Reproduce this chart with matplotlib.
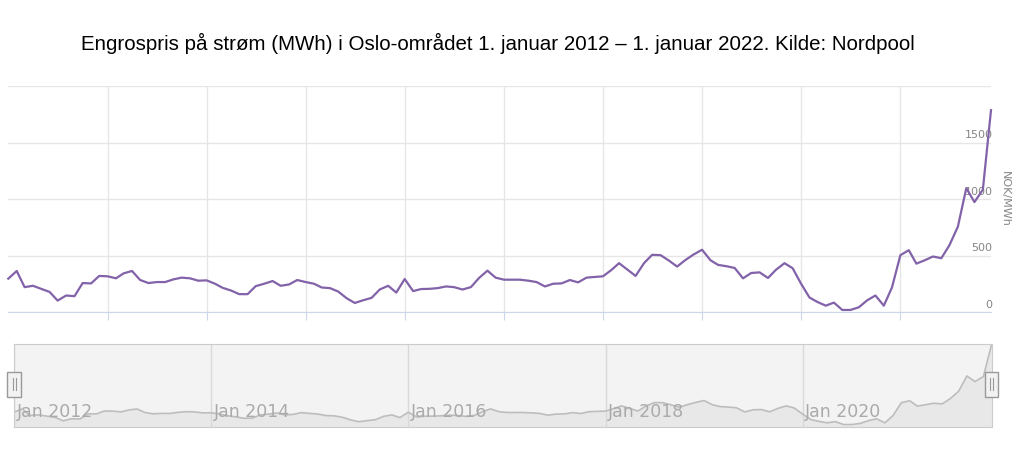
import matplotlib
matplotlib.use("Agg")
import matplotlib.pyplot as plt
import matplotlib.patches as mpatches
import pandas as pd

# månedlig engrospris NOK/MWh, jan 2012 - des 2021 (lest av figuren)
months = pd.date_range("2012-01-01", periods=120, freq="MS")
price = [
    295, 363, 220, 232, 205, 178, 101, 146, 140, 256, 253, 319,
    316, 298, 342, 363, 283, 256, 265, 265, 289, 304, 298, 277,
    280, 250, 214, 190, 158, 158, 229, 250, 274, 232, 244, 283,
    265, 250, 217, 211, 181, 122, 80, 104, 125, 199, 232, 172,
    292, 185, 203, 205, 211, 226, 220, 199, 220, 301, 366, 304,
    286, 286, 286, 277, 265, 226, 250, 253, 283, 262, 304, 310,
    316, 372, 432, 375, 319, 432, 506, 503, 455, 402, 461, 509,
    551, 458, 417, 405, 390, 298, 345, 351, 301, 375, 432, 387,
    250, 128, 89, 56, 83, 18, 18, 42, 104, 146, 56, 217,
    503, 547, 428, 458, 491, 476, 592, 756, 1096, 973, 1083, 1786,
]
y_ticks = [0, 500, 1000, 1500, 2000]
y_labels = ["0", "500", "1000", "1500", ""]
grid_years = pd.date_range("2013-01-01", "2021-01-01", freq="YS")
nav_years = pd.date_range("2012-01-01", "2020-01-01", freq="2YS")
nav_labels = ["Jan 2012", "Jan 2014", "Jan 2016", "Jan 2018", "Jan 2020"]

title = "Engrospris på strøm (MWh) i Oslo-området 1. januar 2012 – 1. januar 2022. Kilde: Nordpool"

W, H = 1024, 455
fig = plt.figure(figsize=(W / 100, H / 100), dpi=100)
fig.patch.set_facecolor("white")

fig.text(0.486, 1 - 43 / H, title, ha="center", va="center",
         fontsize=14.8, family=["Liberation Sans", "DejaVu Sans"], color="black")

# hovedgraf
ax = fig.add_axes([8.3 / W, 1 - 312 / H, (991 - 8.3) / W, 226 / H])
ax.plot(months, price, color="#8262a8", lw=1.6, zorder=3, clip_on=False)
ax.set_xlim(months[0], months[-1])
ax.set_ylim(0, 2000)
ax.set_yticks(y_ticks)
ax.set_xticks(grid_years)
ax.grid(True, color="#e6e6e6", lw=1)
ax.set_axisbelow(True)
for s in ["top", "left", "right"]:
    ax.spines[s].set_visible(False)
ax.spines["bottom"].set_color("#ccd6eb")
ax.tick_params(axis="x", length=6, color="#ccd6eb", labelbottom=False)
ax.tick_params(axis="y", length=0, labelleft=False)
for v, lab in zip(y_ticks, y_labels):
    ax.annotate(lab, xy=(1.0, v), xycoords=ax.get_yaxis_transform(),
                xytext=(1, 1.5), textcoords="offset points",
                ha="right", va="bottom", fontsize=8, color="#858585", zorder=1)
fig.text(1005 / W, 1 - 199 / H, "NOK/MWh", rotation=-90, ha="center", va="center",
         fontsize=8, color="#858585")

# navigator
nav = fig.add_axes([14 / W, 1 - 426.7 / H, (991.5 - 14) / W, 82.4 / H])
nav.set_facecolor("#f3f3f3")
nav.fill_between(months, price, -30, color="#e8e8e8", lw=0)
nav.plot(months, price, color="#bdbdbd", lw=1.2)
nav.set_xlim(months[0], months[-1])
nav.set_ylim(-30, 1800)
nav.set_xticks(nav_years)
nav.set_yticks([])
nav.xaxis.grid(True, color="#d9d9d9", lw=1)
nav.tick_params(axis="x", length=0, labelbottom=False)
for s in nav.spines.values():
    s.set_color("#cccccc")
for d, lab in zip(nav_years, nav_labels):
    nav.annotate(lab, xy=(d, 0.18), xycoords=("data", "axes fraction"),
                 xytext=(2, 0), textcoords="offset points",
                 ha="left", va="center", fontsize=12.5, color="#aaaaaa")

# håndtak
for cx in [14, 991.5]:
    x0, y0, w, h = (cx - 6.7) / W, 1 - 396.7 / H, 13.4 / W, 25 / H
    fig.patches.append(mpatches.Rectangle((x0, y0), w, h, transform=fig.transFigure,
                                          facecolor="#f2f2f2", edgecolor="#999999", lw=1))
    for dx in [-1.5, 1.5]:
        fig.lines.append(plt.Line2D([(cx + dx) / W] * 2, [1 - 390 / H, 1 - 378 / H],
                                    transform=fig.transFigure, color="#999999", lw=0.8))

fig.savefig("out.png", dpi=100)
